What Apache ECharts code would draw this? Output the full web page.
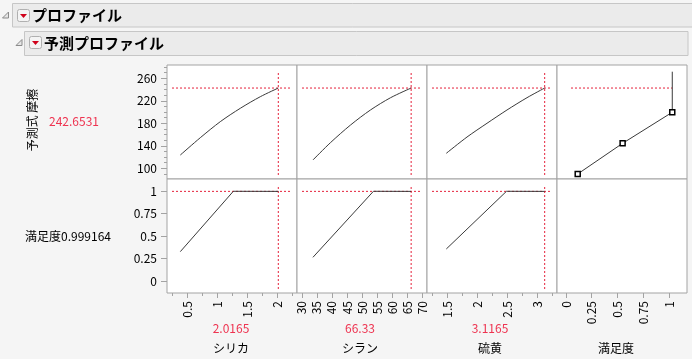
<!DOCTYPE html>
<html><head><meta charset="utf-8">
<script src="https://cdn.jsdelivr.net/npm/echarts@6/dist/echarts.min.js"></script>
<style>html,body{margin:0;padding:0;background:#f5f5f5;}#c{width:692px;height:359px;}</style>
</head><body><div id="c"></div>
<script>
// ---- data ----
const factorNames = ['シリカ', 'シラン', '硫黄', '満足度'];
const currentValues = [2.0165, 66.33, 3.1165];
const currentLabels = ['2.0165', '66.33', '3.1165'];
const predictedValue = 242.6531;
const predictedLabel = '242.6531';
const desirabilityValue = 0.999164;
const desirabilityLabel = '満足度0.999164';
const responseName = '予測式 摩擦';

const silicaX = [0.384, 0.717, 1.05, 1.384, 1.717, 2.0165];
const silicaPred = [123.6, 154.4, 182.9, 206.7, 227.3, 242.65];
const silaneX = [33.7, 39.5, 46.2, 52.8, 59.5, 66.33];
const silanePred = [114.8, 145.5, 177.0, 203.6, 225.5, 242.65];
const sulfurX = [1.477, 1.822, 2.155, 2.488, 2.822, 3.1165];
const sulfurPred = [126.7, 155.6, 180.0, 203.6, 225.5, 242.65];

const desCurveD = [0.114, 0.55, 1.032, 1.032];
const desCurvePred = [89.9, 144.4, 199.6, 271.7];

const silicaDX = [0.384, 1.267, 2.0165];
const silicaD = [0.327, 1.0, 0.999];
const silaneDX = [33.7, 53.8, 66.33];
const silaneD = [0.264, 1.0, 0.999];
const sulfurDX = [1.477, 2.48, 3.1165];
const sulfurD = [0.357, 1.0, 0.999];

const predTicks = [100, 140, 180, 220, 260];
const predMinorTicks = [90, 110, 120, 130, 150, 160, 170, 190, 200, 210, 230, 240, 250, 270, 280];
const desTicks = [0, 0.25, 0.5, 0.75, 1];
const xTicks = [[0.5, 1, 1.5, 2], [30, 35, 40, 45, 50, 55, 60, 65, 70], [1.5, 2, 2.5, 3], [0, 0.25, 0.5, 0.75, 1]];
const xMinorTicks = [[0.25, 0.75, 1.25, 1.75, 2.25], [], [1.25, 1.75, 2.25, 2.75, 3.25], []];

const predRange = [81, 283.6];
const desRange = [-0.134, 1.137];
const xRanges = [[0.162, 2.328], [28.4, 71.6], [1.155, 3.322], [-0.087, 1.175]];

// ---- layout ----
const colLeft = [167, 297, 427, 557];
const colW = 130;
const rowTop = [65, 179];
const rowH = 114;
const GRAY = '#a3a3a3';
const RED = '#e5213a';
const RED_TXT = '#ee3350';
const FONT = '"Noto Sans CJK JP", "Noto Sans", sans-serif';

const grids = [], xAxes = [], yAxes = [], series = [];
for (let r = 0; r < 2; r++) {
  for (let c = 0; c < 4; c++) {
    grids.push({left: colLeft[c], top: rowTop[r], width: colW, height: rowH, show: true,
      backgroundColor: '#ffffff', borderColor: GRAY, borderWidth: 1, outerBoundsMode: 'none', containLabel: false});
  }
}
const gi = (r, c) => r * 4 + c;

// main axes
for (let r = 0; r < 2; r++) {
  for (let c = 0; c < 4; c++) {
    const g = gi(r, c);
    const showX = r === 1;
    xAxes.push({type: 'value', gridIndex: g, min: xRanges[c][0], max: xRanges[c][1], position: 'bottom',
      show: showX,
      axisLine: {show: false, onZero: false},
      splitLine: {show: false},
      axisTick: {show: showX, customValues: xTicks[c], length: 5, lineStyle: {color: GRAY}},
      axisLabel: {show: showX, customValues: xTicks[c], rotate: 90, margin: 8, fontSize: 12, color: '#000', fontFamily: FONT}
    });
    const showY = c === 0;
    const yr = r === 0 ? predRange : desRange;
    const yt = r === 0 ? predTicks : desTicks;
    yAxes.push({type: 'value', gridIndex: g, min: yr[0], max: yr[1], position: 'left',
      show: showY,
      axisLine: {show: false, onZero: false},
      splitLine: {show: false},
      axisTick: {show: showY, customValues: yt, length: 6, lineStyle: {color: GRAY}},
      axisLabel: {show: showY, customValues: yt, margin: 10, fontSize: 12, color: '#000', fontFamily: FONT}
    });
  }
}
// minor tick axes
yAxes.push({type: 'value', gridIndex: 0, min: predRange[0], max: predRange[1], position: 'left', offset: 0,
  axisLine: {show: false, onZero: false}, splitLine: {show: false}, axisLabel: {show: false},
  axisTick: {show: true, customValues: predMinorTicks, length: 3, lineStyle: {color: GRAY}}});
for (let c = 0; c < 4; c++) {
  if (!xMinorTicks[c].length) continue;
  xAxes.push({type: 'value', gridIndex: gi(1, c), min: xRanges[c][0], max: xRanges[c][1], position: 'bottom', offset: 0,
    axisLine: {show: false, onZero: false}, splitLine: {show: false}, axisLabel: {show: false},
    axisTick: {show: true, customValues: xMinorTicks[c], length: 3, lineStyle: {color: GRAY}}});
}

const zip = (a, b) => a.map((v, i) => [v, b[i]]);
const curveStyle = {color: '#3a3a3a', width: 1};
const redStyle = {color: RED, width: 1, type: [2, 2]};
function addLine(g, data, style, extra) {
  series.push(Object.assign({type: 'line', xAxisIndex: g, yAxisIndex: g, data: data, showSymbol: false,
    symbol: 'none', lineStyle: style, silent: true, z: 2}, extra || {}));
}
const frac = (rng, f) => rng[0] + (rng[1] - rng[0]) * f;

const profX = [silicaX, silaneX, sulfurX];
const profP = [silicaPred, silanePred, sulfurPred];
const profDX = [silicaDX, silaneDX, sulfurDX];
const profD = [silicaD, silaneD, sulfurD];
for (let c = 0; c < 3; c++) {
  const xr = xRanges[c];
  const xL = frac(xr, 5 / colW), xR = frac(xr, 1 - 7 / colW);
  // top row
  addLine(gi(0, c), [[xL, predictedValue], [xR, predictedValue]], redStyle);
  addLine(gi(0, c), [[currentValues[c], frac(predRange, 1 - 8 / rowH)], [currentValues[c], frac(predRange, 4 / rowH)]], redStyle);
  addLine(gi(0, c), zip(profX[c], profP[c]), curveStyle, {smooth: 0.3});
  // bottom row
  addLine(gi(1, c), [[xL, desirabilityValue], [xR, desirabilityValue]], redStyle);
  addLine(gi(1, c), [[currentValues[c], frac(desRange, 1 - 8 / rowH)], [currentValues[c], frac(desRange, 3 / rowH)]], redStyle);
  addLine(gi(1, c), zip(profDX[c], profD[c]), curveStyle);
}
// desirability function panel
addLine(gi(0, 3), [[frac(xRanges[3], 14 / colW), predictedValue], [desCurveD[3], predictedValue]], redStyle);
const desData = zip(desCurveD, desCurvePred).map((p, i) => i < 3 ? {value: p} : {value: p, symbol: 'none'});
series.push({type: 'line', xAxisIndex: gi(0, 3), yAxisIndex: gi(0, 3), data: desData, silent: true, z: 3,
  showSymbol: true, symbol: 'rect', symbolSize: 5, showAllSymbol: true,
  lineStyle: {color: '#3a3a3a', width: 1},
  itemStyle: {color: '#ffffff', borderColor: '#000', borderWidth: 1.5}});

// ---- text & header graphics ----
const graphic = [];
function bar(x, y, w, h) {
  graphic.push({type: 'rect', shape: {x: x, y: y, width: w, height: h}, style: {fill: '#ebebeb', stroke: '#c6c6c6', lineWidth: 1}, silent: true});
}
function tri(x, y) {
  graphic.push({type: 'polygon', shape: {points: [[x, y + 6], [x + 6, y + 6], [x + 6, y]]}, style: {fill: '#e6e6e6', stroke: '#8a8a8a', lineWidth: 1}, silent: true});
}
function btn(x, y) {
  graphic.push({type: 'rect', shape: {x: x, y: y, width: 12, height: 12, r: 2}, style: {fill: '#f4f4f4', stroke: '#b0b0b0', lineWidth: 1}, silent: true});
  graphic.push({type: 'polygon', shape: {points: [[x + 2.5, y + 4.5], [x + 9.5, y + 4.5], [x + 6, y + 8.5]]}, style: {fill: '#d0021b'}, silent: true});
}
bar(12.5, 3.5, 690, 23.5);
bar(24.5, 31.5, 663.5, 24);
tri(2.5, 12);
tri(16, 39.5);
btn(17.5, 9.5);
btn(29.5, 36.5);
graphic.push({type: 'text', x: 32, y: 15.5, style: {text: 'プロファイル', font: 'bold 15px ' + FONT, fill: '#000', verticalAlign: 'middle', align: 'left'}, silent: true});
graphic.push({type: 'text', x: 44, y: 43.5, style: {text: '予測プロファイル', font: 'bold 15px ' + FONT, fill: '#000', verticalAlign: 'middle', align: 'left'}, silent: true});

graphic.push({type: 'text', x: 32, y: 120, rotation: Math.PI / 2, style: {text: responseName, font: '12px ' + FONT, fill: '#000', align: 'center', verticalAlign: 'middle'}, silent: true});
graphic.push({type: 'text', x: 74, y: 121, style: {text: predictedLabel, font: '12px ' + FONT, fill: RED_TXT, align: 'center', verticalAlign: 'middle'}, silent: true});
graphic.push({type: 'text', x: 25, y: 236, style: {text: desirabilityLabel, font: '12px ' + FONT, fill: '#000', align: 'left', verticalAlign: 'middle'}, silent: true});

const labelCenters = [231, 360, 490, 616];
for (let c = 0; c < 4; c++) {
  if (c < 3) graphic.push({type: 'text', x: labelCenters[c], y: 328, style: {text: currentLabels[c], font: '12px ' + FONT, fill: RED_TXT, align: 'center', verticalAlign: 'middle'}, silent: true});
  graphic.push({type: 'text', x: labelCenters[c], y: 348, style: {text: factorNames[c], font: '12px ' + FONT, fill: '#000', align: 'center', verticalAlign: 'middle'}, silent: true});
}

const chart = echarts.init(document.getElementById('c'), null, {renderer: 'canvas'});
chart.setOption({animation: false, backgroundColor: '#f5f5f5', grid: grids, xAxis: xAxes, yAxis: yAxes, series: series, graphic: graphic});
</script></body></html>
